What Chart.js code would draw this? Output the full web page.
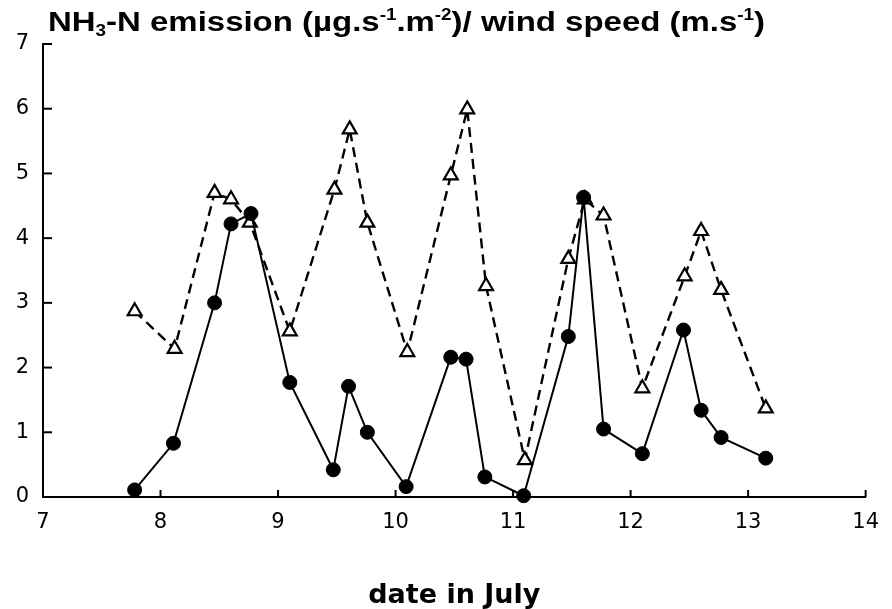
<!DOCTYPE html>
<html><head><meta charset="utf-8">
<script src="https://cdn.jsdelivr.net/npm/chart.js@4.4.0/dist/chart.umd.min.js"></script>
<style>html,body{margin:0;padding:0;background:#fff;}</style>
</head><body>
<canvas id="c" width="892" height="609"></canvas>
<script>
const emissionDates  = [7.78, 8.11, 8.46, 8.60, 8.77, 9.10, 9.47, 9.60, 9.76, 10.09, 10.47, 10.60, 10.76, 11.09, 11.47, 11.60, 11.77, 12.10, 12.45, 12.60, 12.77, 13.15];
const emissionValues = [0.11, 0.83, 3.00, 4.22, 4.38, 1.77, 0.42, 1.71, 1.00, 0.16, 2.16, 2.13, 0.31, 0.02, 2.48, 4.63, 1.05, 0.67, 2.58, 1.34, 0.92, 0.60];
const windDates  = [7.78, 8.12, 8.46, 8.60, 8.76, 9.10, 9.48, 9.61, 9.76, 10.10, 10.47, 10.61, 10.77, 11.10, 11.47, 11.61, 11.77, 12.10, 12.46, 12.60, 12.77, 13.15];
const windValues = [2.87, 2.29, 4.70, 4.60, 4.24, 2.56, 4.75, 5.68, 4.24, 2.24, 4.97, 5.99, 3.26, 0.57, 3.68, 4.60, 4.35, 1.68, 3.41, 4.11, 3.20, 1.37];
const xTicks = [7, 8, 9, 10, 11, 12, 13, 14];
const yTicks = [0, 1, 2, 3, 4, 5, 6, 7];
const titleParts = [
  {t: 'NH'}, {t: '3', sub: true}, {t: '-N emission (\u00b5g.s'}, {t: '-1', sup: true},
  {t: '.m'}, {t: '-2', sup: true}, {t: ')/ wind speed (m.s'}, {t: '-1', sup: true}, {t: ')'}
];
const xAxisTitle = 'date in July';

const TITLE_FONT = '"Liberation Sans", Arial, sans-serif';
const annot = {
  id: 'annot',
  beforeDatasetsDraw(chart) {
    const ctx = chart.ctx, xs = chart.scales.x, ys = chart.scales.y;
    ctx.save();
    ctx.strokeStyle = '#000'; ctx.lineWidth = 2;
    yTicks.forEach(v => {
      const p = ys.getPixelForValue(v);
      ctx.beginPath(); ctx.moveTo(xs.left, p); ctx.lineTo(xs.left + 9, p); ctx.stroke();
    });
    xTicks.forEach(v => {
      const p = xs.getPixelForValue(v);
      ctx.beginPath(); ctx.moveTo(p, ys.bottom); ctx.lineTo(p, ys.bottom - 7); ctx.stroke();
    });
    ctx.restore();
  },
  afterDraw(chart) {
    const ctx = chart.ctx, xs = chart.scales.x;
    const base = 31, size = 28, small = 16, targetWidth = 717;
    const fontFor = p => 'bold ' + ((p.sub || p.sup) ? small : size) + 'px ' + TITLE_FONT;
    ctx.save();
    let total = 0;
    titleParts.forEach(p => { ctx.font = fontFor(p); total += ctx.measureText(p.t).width; });
    const sx = targetWidth / total;
    ctx.translate(xs.left + 5, 0);
    ctx.scale(sx, 1);
    ctx.fillStyle = '#000';
    ctx.textBaseline = 'alphabetic';
    let x = 0;
    titleParts.forEach(p => {
      ctx.font = fontFor(p);
      const y = p.sub ? base + 5 : (p.sup ? base - 11 : base);
      ctx.fillText(p.t, x, y);
      x += ctx.measureText(p.t).width;
    });
    ctx.restore();
  }
};

const tickFont = {family: '"DejaVu Sans", sans-serif', size: 21};

new Chart(document.getElementById('c'), {
  type: 'line',
  data: {
    datasets: [
      {
        label: 'NH3-N emission',
        data: emissionDates.map((d, i) => ({x: d, y: emissionValues[i]})),
        borderColor: '#000', borderWidth: 2, tension: 0, clip: false,
        pointStyle: 'circle', pointRadius: 7,
        pointBackgroundColor: '#000', pointBorderColor: '#000', pointBorderWidth: 1
      },
      {
        label: 'wind speed',
        data: windDates.map((d, i) => ({x: d, y: windValues[i]})),
        borderColor: '#000', borderWidth: 2.4, borderDash: [10, 6], tension: 0, clip: false,
        pointStyle: 'triangle', pointRadius: 8,
        pointBackgroundColor: '#fff', pointBorderColor: '#000', pointBorderWidth: 2.2
      }
    ]
  },
  options: {
    responsive: false,
    animation: false,
    layout: {padding: {top: 44, right: 18, left: 0, bottom: 0}},
    plugins: {legend: {display: false}, tooltip: {enabled: false}},
    scales: {
      x: {
        type: 'linear', min: 7, max: 14,
        afterBuildTicks: s => { s.ticks = xTicks.map(v => ({value: v})); },
        ticks: {font: tickFont, color: '#000', padding: 13, maxRotation: 0, autoSkip: false},
        grid: {display: false, drawTicks: false},
        border: {display: true, color: '#000', width: 2},
        title: {display: true, text: xAxisTitle, color: '#000',
                font: {family: '"DejaVu Sans", sans-serif', size: 27, weight: 'bold', lineHeight: 1},
                padding: {top: 0, bottom: 0}},
        afterFit: s => { s.height = 112; }
      },
      y: {
        type: 'linear', min: 0, max: 7,
        afterBuildTicks: s => { s.ticks = yTicks.map(v => ({value: v})); },
        ticks: {font: tickFont, color: '#000', padding: 14},
        grid: {display: false, drawTicks: false},
        border: {display: true, color: '#000', width: 2},
        afterFit: s => { s.width = 43; }
      }
    }
  },
  plugins: [annot]
});
</script>
</body></html>
